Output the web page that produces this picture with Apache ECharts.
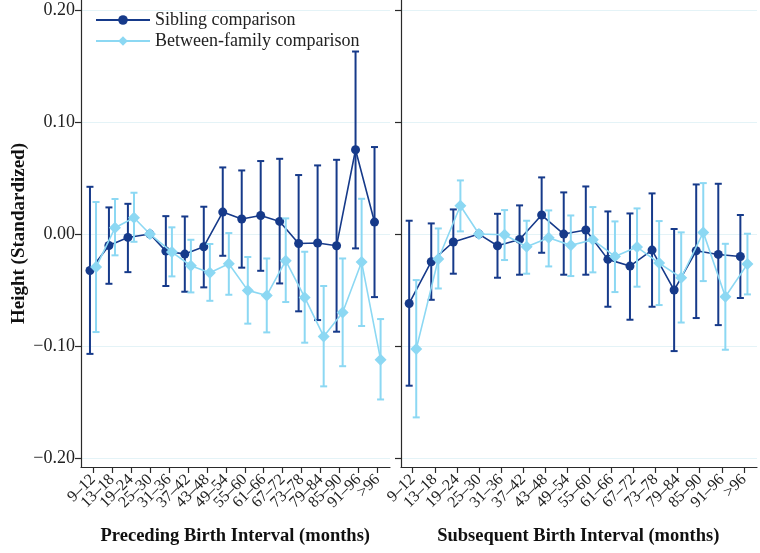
<!DOCTYPE html>
<html><head><meta charset="utf-8">
<script src="https://cdn.jsdelivr.net/npm/echarts@6/dist/echarts.min.js"></script>
<style>html,body{margin:0;padding:0;background:#fff}#c{width:760px;height:553px}</style>
</head><body><div id="c"></div>
<script>
const categories = ['9–12','13–18','19–24','25–30','31–36','37–42','43–48','49–54','55–60','61–66','67–72','73–78','79–84','85–90','91–96','>96'];
const yTicks = [-0.2,-0.1,0,0.1,0.2];
const refIndex = 3;
const seriesNames = ['Sibling comparison','Between-family comparison'];
const panelTitles = ['Preceding Birth Interval (months)','Subsequent Birth Interval (months)'];

// Preceding birth interval
const precSib   = [-0.0325,-0.0102,-0.0030,0,-0.0152,-0.0179,-0.0113,0.0196,0.0134,0.0166,0.0113,-0.0084,-0.0080,-0.0104,0.0753,0.0107];
const precSibLo = [-0.107,-0.0444,-0.034,null,-0.0464,-0.0515,-0.0476,-0.0194,-0.030,-0.0328,-0.0441,-0.069,-0.0768,-0.0872,-0.0128,-0.0563];
const precSibHi = [0.0422,0.0238,0.027,null,0.016,0.0157,0.0244,0.0595,0.0568,0.0652,0.0672,0.0527,0.0613,0.0663,0.163,0.0777];
const precBtw   = [-0.0295,0.0056,0.0146,0,-0.0161,-0.0283,-0.0346,-0.0265,-0.0503,-0.0548,-0.0238,-0.0566,-0.0914,-0.070,-0.025,-0.1122];
const precBtwLo = [-0.0875,-0.019,-0.0069,null,-0.0378,-0.0521,-0.0596,-0.0542,-0.080,-0.0878,-0.0607,-0.097,-0.136,-0.118,-0.0821,-0.1477];
const precBtwHi = [0.0286,0.0313,0.0369,null,0.006,-0.0051,-0.0089,0.0009,-0.0205,-0.0218,0.014,-0.0158,-0.0464,-0.0218,0.0315,-0.0759];

// Subsequent birth interval
const subsSib   = [-0.062,-0.0247,-0.0071,0,-0.0104,-0.0048,0.017,0.0000,0.0036,-0.0226,-0.0286,-0.0143,-0.050,-0.0149,-0.0182,-0.020];
const subsSibLo = [-0.1354,-0.0587,-0.0354,null,-0.039,-0.0363,-0.0167,-0.0363,-0.0363,-0.0649,-0.0765,-0.0649,-0.1045,-0.075,-0.0813,-0.0571];
const subsSibHi = [0.0119,0.0095,0.022,null,0.0181,0.0256,0.0506,0.0372,0.0425,0.0202,0.0184,0.0363,0.0045,0.0443,0.0449,0.017];
const subsBtw   = [-0.1027,-0.0223,0.0253,0,-0.0006,-0.0113,-0.0033,-0.0101,-0.0051,-0.020,-0.0116,-0.0259,-0.039,0.0015,-0.056,-0.0268];
const subsBtwLo = [-0.1637,-0.0486,0.0024,null,-0.0232,-0.0354,-0.0289,-0.0375,-0.0342,-0.0518,-0.047,-0.0634,-0.079,-0.042,-0.1033,-0.0539];
const subsBtwHi = [-0.0411,0.005,0.0479,null,0.0214,0.0119,0.0211,0.0166,0.0241,0.0113,0.0229,0.0116,0.0015,0.0455,-0.0087,0.0003];

const FONT = 'Liberation Serif';
const SIB = '#163a8a';
const BTW = '#8cd8f3';
const AX = '#2a2a2a';
const OFF = 0.16;

// panel geometry: data grid extents and category spacing
const panels = [
  { left: 81, width: 309, first: 93, step: 18.97 },
  { left: 401, width: 356, first: 412.7, step: 22.08 }
];
const H = 467;

function xPos(i, off) { return i === refIndex ? i : i + off; }

function lineSeries(name, vals, off, color, symbol, size, gi, z) {
  return {
    type: 'line', name, xAxisIndex: gi, yAxisIndex: gi, z,
    data: vals.map((v, i) => [xPos(i, off), v]),
    symbol, symbolSize: size, showSymbol: true,
    itemStyle: { color }, lineStyle: { color, width: 1.6 },
    emphasis: { disabled: true }, animation: false
  };
}

function errSeries(lo, hi, off, color, gi, z) {
  return {
    type: 'custom', xAxisIndex: gi, yAxisIndex: gi, z, silent: true, animation: false,
    data: lo.map((l, i) => l == null ? null : [xPos(i, off), l, hi[i]]).filter(Boolean),
    encode: { x: 0, y: [1, 2] },
    renderItem(params, api) {
      const x = api.value(0);
      const a = api.coord([x, api.value(1)]);
      const b = api.coord([x, api.value(2)]);
      const w = 3.5;
      const st = { stroke: color, lineWidth: 2 };
      return { type: 'group', children: [
        { type: 'line', shape: { x1: a[0], y1: a[1], x2: b[0], y2: b[1] }, style: st },
        { type: 'line', shape: { x1: a[0] - w, y1: a[1], x2: a[0] + w, y2: a[1] }, style: st },
        { type: 'line', shape: { x1: b[0] - w, y1: b[1], x2: b[0] + w, y2: b[1] }, style: st }
      ]};
    }
  };
}

const grids = [], xAxes = [], yAxes = [];
panels.forEach((p, k) => {
  grids.push({ left: p.left, top: 0, width: p.width, height: H });
  const min = -(p.first - p.left) / p.step;
  const max = (p.left + p.width - p.first) / p.step;
  xAxes.push({
    type: 'value', gridIndex: k, min, max,
    axisLine: { onZero: false, lineStyle: { color: AX, width: 1.2 } },
    axisTick: { show: false }, axisLabel: { show: false }, splitLine: { show: false }
  });
  yAxes.push({
    type: 'value', gridIndex: k, min: -0.208, max: 0.209,
    axisLine: { show: true, onZero: false, lineStyle: { color: AX, width: 1.2 } },
    axisTick: { show: true, customValues: yTicks, length: 6, lineStyle: { color: AX, width: 1.2 } },
    axisLabel: { show: k === 0, customValues: yTicks, margin: 6,
      formatter: v => (v < 0 ? '−' : '') + Math.abs(v).toFixed(2),
      fontFamily: FONT, fontSize: 18, color: '#222' },
    splitLine: { show: true, lineStyle: { color: '#e4f3f7', width: 1 } },
    name: k === 0 ? 'Height (Standardized)' : '', nameLocation: 'middle', nameGap: 52,
    nameTextStyle: { fontFamily: FONT, fontWeight: 'bold', fontSize: 19, color: '#111' }
  });
});
// label grids: category bands centred on the category positions
panels.forEach((p, k) => {
  grids.push({ left: p.first - p.step / 2, top: 0, width: p.step * categories.length, height: H });
  xAxes.push({
    type: 'category', gridIndex: 2 + k, data: categories, boundaryGap: true,
    axisLine: { show: false },
    axisTick: { show: true, alignWithLabel: true, interval: 0, length: 6, lineStyle: { color: AX, width: 1.2 } },
    axisLabel: { interval: 0, rotate: 45, margin: 10, fontFamily: FONT, fontSize: 16, color: '#222' },
    splitLine: { show: false },
    name: panelTitles[k], nameLocation: 'middle', nameGap: 60,
    nameTextStyle: { fontFamily: FONT, fontWeight: 'bold', fontSize: 18.5, color: '#111' }
  });
  yAxes.push({ type: 'value', gridIndex: 2 + k, show: false, min: 0, max: 1 });
});

const chart = echarts.init(document.getElementById('c'), null, { renderer: 'canvas' });
chart.setOption({
  animation: false,
  backgroundColor: '#fff',
  grid: grids,
  xAxis: xAxes,
  yAxis: yAxes,
  legend: {
    data: seriesNames, left: 90, top: 6, orient: 'vertical',
    itemWidth: 54, itemHeight: 12, itemGap: 3,
    textStyle: { fontFamily: FONT, fontSize: 18, color: '#222' }
  },
  series: [
    errSeries(precSibLo, precSibHi, -OFF, SIB, 0, 2),
    lineSeries(seriesNames[0], precSib, -OFF, SIB, 'circle', 9, 0, 3),
    errSeries(precBtwLo, precBtwHi, OFF, BTW, 0, 4),
    lineSeries(seriesNames[1], precBtw, OFF, BTW, 'diamond', 12, 0, 5),
    errSeries(subsSibLo, subsSibHi, -OFF, SIB, 1, 2),
    lineSeries(seriesNames[0], subsSib, -OFF, SIB, 'circle', 9, 1, 3),
    errSeries(subsBtwLo, subsBtwHi, OFF, BTW, 1, 4),
    lineSeries(seriesNames[1], subsBtw, OFF, BTW, 'diamond', 12, 1, 5)
  ]
});
</script>
</body></html>
